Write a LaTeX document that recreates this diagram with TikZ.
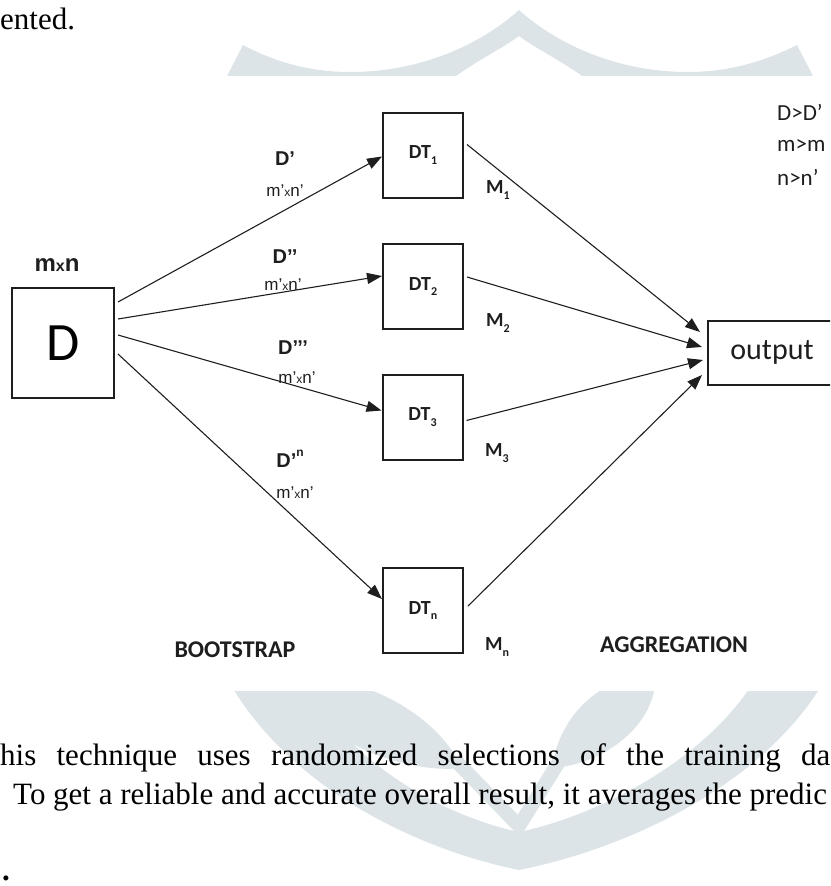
\documentclass[tikz,border=0pt]{standalone}
\usepackage{fontspec}
\setmainfont{Liberation Serif}
\newfontfamily\calib{Carlito}
\newfontfamily\arial{Liberation Sans}
\usetikzlibrary{arrows.meta,calc}
\definecolor{wmgrey}{RGB}{221,228,232}
\definecolor{ink}{RGB}{30,30,30}
\newcommand\fs[1]{\fontsize{#1}{#1}\selectfont}
\newcommand\sbs[1]{\raisebox{-0.28em}{\fs{12}#1}}
\newcommand\sps[1]{\raisebox{0.55em}{\fs{12}#1}}
\tikzset{
  x=1pt, y=-1pt,
  box/.style={draw=ink, line width=2pt, minimum width=80pt, minimum height=85pt, inner sep=0pt},
  lbl/.style={inner sep=0pt, text=ink},
  dlab/.style={lbl, font=\arial\bfseries\fs{20}},
  dim/.style={lbl, font=\arial\fs{17}},
  tlab/.style={lbl, font=\calib\bfseries\fs{20}},
  note/.style={lbl, font=\calib\fs{23}, anchor=west},
  phase/.style={lbl, font=\calib\bfseries\fs{24}},
  body/.style={inner sep=0pt, anchor=base west, font=\fs{31}},
  arr/.style={draw=ink, line width=1.1pt, -{Triangle[length=15pt,width=11pt]}}
}
\begin{document}
\begin{tikzpicture}
\useasboundingbox (0,0) rectangle (830,886);
\clip (0,0) rectangle (830,886);

% watermark behind the page text
\begin{scope}
  \clip (0,0) rectangle (830,75);
  \fill[wmgrey] (226,78) -- (243,45) .. controls (275,62) and (310,72) .. (350,72)
    .. controls (420,72) and (480,45) .. (519,10)
    .. controls (558,45) and (618,72) .. (688,72)
    .. controls (728,72) and (763,62) .. (797,45) -- (814,78) -- (585,78)
    .. controls (560,60) and (535,48) .. (519,36)
    .. controls (503,48) and (478,60) .. (453,78) -- cycle;
\end{scope}
\begin{scope}
  \clip (0,691) rectangle (830,886);
  % arms of the heart
  \fill[wmgrey] (228,680) .. controls (290,790) and (420,850) .. (519,870)
    .. controls (620,850) and (760,790) .. (825,680) -- (755,680)
    .. controls (705,760) and (600,815) .. (519,832)
    .. controls (440,815) and (345,760) .. (305,680) -- cycle;
  % leaves
  \fill[wmgrey] (290,685) .. controls (330,665) and (430,700) .. (462,768)
    .. controls (400,775) and (310,735) .. (290,685) -- cycle;
  \fill[wmgrey] (655,685) .. controls (620,665) and (560,705) .. (552,768)
    .. controls (600,765) and (650,730) .. (655,685) -- cycle;
  % stems
  \draw[wmgrey, line width=14pt] (455,760) -- (519,826) -- (560,760);
\end{scope}

% page text around the figure
\node[body] (prev) at (0,29) {ented.};
\node[body] (line1) at (0,765) {\hbox to 830pt{his\hfill technique\hfill uses\hfill randomized\hfill selections\hfill of\hfill the\hfill training\hfill da}};
\node[body] (line2) at (13,804) {To get a reliable and accurate overall result, it averages the predic};
\node[body, font=\fs{31}\bfseries] (dot) at (2,880) {.};

% data set
\node[box, minimum width=102pt, minimum height=110pt, font=\calib\fs{54}] (D) at (63,343) {D};
\node[lbl, font=\arial\bfseries\fs{24}] (mxn) at (57,265) {m{\fs{16}x}n};

% decision trees
\node[box] (T1) at (423,155) {};
\node[box] (T2) at (423,286.5) {};
\node[box] (T3) at (422.5,417) {};
\node[box] (Tn) at (423,610.5) {};
\node[tlab] at (T1) {DT\sbs{1}};
\node[tlab] at (T2) {DT\sbs{2}};
\node[tlab] at (T3) {DT\sbs{3}};
\node[tlab] at (Tn) {DT\sbs{n}};

% aggregated result
\node[box, minimum width=140pt, minimum height=64pt, anchor=north west] (out) at (707,320) {};
\node[lbl, font=\calib\fs{30}] (outtxt) at (772,352) {output};

% bootstrap samples
\draw[arr] ($(D.north east)+(3,15)$) -- ($(T1.north west)+(0,45)$);
\draw[arr] ($(D.north east)+(3,32)$) -- ($(T2.north west)+(0,33)$);
\draw[arr] ($(D.north east)+(3,48)$) -- ($(T3.north west)+(0,37)$);
\draw[arr] ($(D.north east)+(3,67)$) -- ($(Tn.north west)+(0,32)$);

% models into the output
\draw[arr] ($(T1.north east)+(3,33)$) -- ($(out.north west)+(-7,12)$);
\draw[arr] ($(T2.north east)+(3,34)$) -- ($(out.north west)+(-5,27)$);
\draw[arr] ($(T3.north east)+(3,47)$) -- ($(out.north west)+(-4,40)$);
\draw[arr] ($(Tn.north east)+(4,39)$) -- ($(out.north west)+(-5,55)$);

% sample labels
\node[dlab] (s1) at (285,159) {D’};
\node[dim]  (d1) at (285,191) {m’{\fs{12}x}n’};
\node[dlab] (s2) at (285,257) {D’’};
\node[dim]  (d2) at (283,285) {m’{\fs{12}x}n’};
\node[dlab] (s3) at (293,348) {D’’’};
\node[dim]  (d3) at (297,378) {m’{\fs{12}x}n’};
\node[dlab] (s4) at (290,459) {D’\sps{n}};
\node[dim]  (d4) at (295,493) {m’{\fs{12}x}n’};

% model labels
\node[tlab] (m1) at (498,190) {M\sbs{1}};
\node[tlab] (m2) at (498,323) {M\sbs{2}};
\node[tlab] (m3) at (497,453) {M\sbs{3}};
\node[tlab] (mn) at (497,647) {M\sbs{n}};

% relations
\node[note] (r1) at (777,112) {D>D’};
\node[note] (r2) at (777,145) {m>m};
\node[note] (r3) at (777,177) {n>n’};

% phases
\node[phase] (boot) at (235,650) {BOOTSTRAP};
\node[phase] (agg) at (674,645) {AGGREGATION};
\end{tikzpicture}
\end{document}
